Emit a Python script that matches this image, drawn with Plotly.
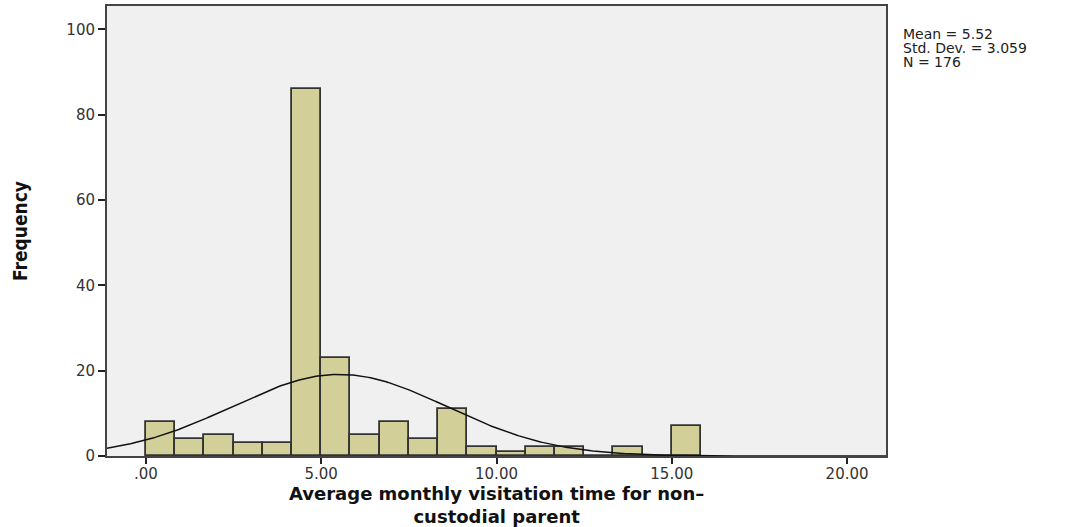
import numpy as np
import plotly.graph_objects as go

# Histogram counts per bin (bins start at 0, width 5/6)
bin_start = 0.0
bin_width = 5.0 / 6.0
counts = [8, 4, 5, 3, 3, 86, 23, 5, 8, 4, 11, 2, 1, 2, 2, 0, 2, 0, 7]

# Descriptive statistics
mean_val = 5.52
std_dev = 3.059
n_total = 176

x_ticks = [0, 5, 10, 15, 20]
x_tick_labels = [".00", "5.00", "10.00", "15.00", "20.00"]
y_ticks = [0, 20, 40, 60, 80, 100]

x_range = [-1.11, 21.11]
y_range = [0, 105.5]

centers = [bin_start + (i + 0.5) * bin_width for i in range(len(counts))]

fig = go.Figure()
fig.add_trace(go.Bar(
    x=centers, y=counts, width=bin_width,
    marker=dict(color="#D3CF98", line=dict(color="#333333", width=1.8)),
    hoverinfo="x+y", showlegend=False,
))

# Fitted normal curve scaled to counts
xs = np.linspace(x_range[0], x_range[1], 400)
ys = n_total * bin_width / (std_dev * np.sqrt(2 * np.pi)) * np.exp(-0.5 * ((xs - mean_val) / std_dev) ** 2)
fig.add_trace(go.Scatter(x=xs, y=ys, mode="lines",
                         line=dict(color="#111111", width=1.5),
                         hoverinfo="skip", showlegend=False))

tick_font = dict(family="DejaVu Sans", size=15, color="#333333")

fig.update_layout(
    width=1080, height=527,
    margin=dict(l=107, r=194, t=6, b=71),
    paper_bgcolor="white",
    plot_bgcolor="#F0F0F0",
    bargap=0,
    xaxis=dict(
        range=x_range, tickvals=x_ticks, ticktext=x_tick_labels,
        ticks="outside", ticklen=6, tickwidth=2, tickcolor="#222222",
        showgrid=False, zeroline=False, automargin=False,
        showline=True, linecolor="#444444", linewidth=2, mirror=True,
        tickfont=tick_font, ticklabelstandoff=-3,
    ),
    yaxis=dict(
        range=y_range, tickvals=y_ticks,
        ticks="outside", ticklen=7, tickwidth=2, tickcolor="#222222",
        showgrid=False, zeroline=False, automargin=False,
        showline=True, linecolor="#444444", linewidth=2, mirror=True,
        tickfont=tick_font,
    ),
)

# Axis titles
fig.add_annotation(
    text="Average monthly visitation time for non–<br>custodial parent",
    xref="paper", yref="paper",
    x=0.5, y=-49 / 450, xanchor="center", yanchor="middle",
    showarrow=False,
    font=dict(family="DejaVu Sans", size=18, color="#111111", weight="bold"),
)

fig.add_annotation(
    text="Frequency", xref="paper", yref="paper",
    x=-87 / 779, y=0.5, xanchor="center", yanchor="middle", textangle=-90,
    showarrow=False,
    font=dict(family="DejaVu Sans Condensed, DejaVu Sans", size=19, color="#111111", weight="bold"),
)

stats_lines = [f"Mean = {mean_val:.2f}", f"Std. Dev. = {std_dev:.3f}", f"N = {n_total}"]
for i, line in enumerate(stats_lines):
    fig.add_annotation(
        text=line, xref="paper", yref="paper",
        x=1 + 15 / 779, y=1 - (28 + i * 14) / 450, xanchor="left", yanchor="middle",
        showarrow=False, font=dict(family="DejaVu Sans", size=14, color="#222222"),
    )

fig.write_html("out.html")
